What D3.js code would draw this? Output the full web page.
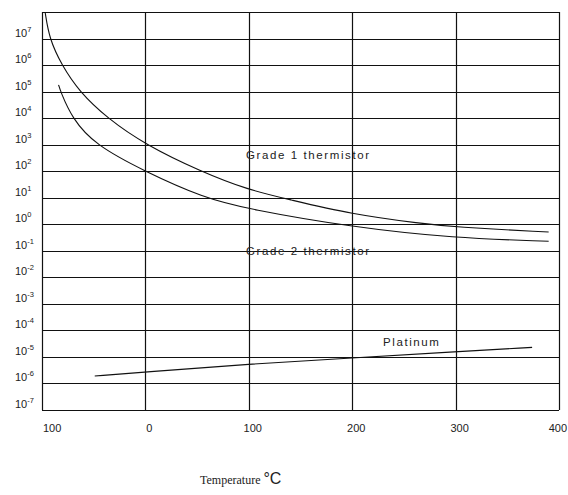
<!DOCTYPE html>
<html>
<head>
<meta charset="utf-8">
<script src="https://cdn.jsdelivr.net/npm/d3@7"></script>
<style>
  body { margin: 0; background: #fff; }
  svg { display: block; }
</style>
</head>
<body>
<script>
// temperature (°C) vs resistivity, log scale
const xTicks = [-100, 0, 100, 200, 300, 400];
const xTickLabels = ["100", "0", "100", "200", "300", "400"];
const yExponents = [7, 6, 5, 4, 3, 2, 1, 0, -1, -2, -3, -4, -5, -6, -7];

const grade1T = [-97, -93, -81, -64, -37, 0, 53, 100, 137, 199, 268, 298, 390];
const grade1R = [1e8, 1e7, 1e6, 1e5, 1e4, 1e3, 100, 19.5, 9, 2.4, 1.05, 0.79, 0.51];

const grade2T = [-84, -82, -71, -49, -1, 56, 100, 198, 298, 390];
const grade2R = [1.8e5, 1e5, 1e4, 1e3, 100, 10, 3.7, 0.8, 0.3, 0.23];

const platinumT = [-49, 0, 100, 200, 298, 374];
const platinumR = [1.9e-6, 2.7e-6, 5.4e-6, 9.1e-6, 1.55e-5, 2.3e-5];

const width = 568, height = 495;

const x = d3.scaleLinear().domain([-100, 400]).range([42, 559]);
const y = d3.scaleLog().domain([1e-7, 1e8]).range([410, 12]);

const svg = d3.select("body").append("svg")
    .attr("width", width)
    .attr("height", height);

// grid
const decades = d3.range(-7, 9).map(e => Math.pow(10, e));
svg.append("g")
    .attr("stroke", "#111")
    .attr("stroke-width", 1.2)
  .selectAll("line")
  .data(decades)
  .join("line")
    .attr("x1", x(-100))
    .attr("x2", x(400))
    .attr("y1", d => Math.round(y(d)) + 0.5)
    .attr("y2", d => Math.round(y(d)) + 0.5);

svg.append("g")
    .attr("stroke", "#111")
    .attr("stroke-width", 1.2)
  .selectAll("line")
  .data(xTicks)
  .join("line")
    .attr("x1", d => Math.round(x(d)) + 0.5)
    .attr("x2", d => Math.round(x(d)) + 0.5)
    .attr("y1", y(1e8))
    .attr("y2", y(1e-7));

// y tick labels: 10 with superscript exponent
const yLab = svg.append("g")
    .attr("font-family", "Liberation Sans, Arial, sans-serif")
    .attr("fill", "#222")
  .selectAll("text")
  .data(yExponents)
  .join("text")
    .attr("x", 15)
    .attr("y", d => y(Math.pow(10, d)) - 2)
    .attr("font-size", 11);
yLab.append("tspan").text("10");
yLab.append("tspan")
    .attr("dy", -5)
    .attr("font-size", 7.5)
    .text(d => d < 0 ? "-" + (-d) : String(d));

// x tick labels
const last = xTicks.length - 1;
svg.append("g")
    .attr("font-family", "Liberation Sans, Arial, sans-serif")
    .attr("font-size", 11)
    .attr("fill", "#222")
  .selectAll("text")
  .data(xTicks)
  .join("text")
    .attr("x", (d, i) => i === 0 ? x(d) + 1 : i === last ? 567 : x(d) + 4)
    .attr("y", 432)
    .attr("text-anchor", (d, i) => i === 0 ? "start" : i === last ? "end" : "middle")
    .text((d, i) => xTickLabels[i]);

// curves
const line = d3.line()
    .x(d => x(d[0]))
    .y(d => y(d[1]))
    .curve(d3.curveBasis);

const series = [
  d3.zip(grade1T, grade1R),
  d3.zip(grade2T, grade2R),
  d3.zip(platinumT, platinumR)
];

svg.append("g")
    .attr("fill", "none")
    .attr("stroke", "#111")
    .attr("stroke-width", 1.1)
  .selectAll("path")
  .data(series)
  .join("path")
    .attr("d", line);

// curve labels
const labels = svg.append("g")
    .attr("font-family", "Liberation Sans, Arial, sans-serif")
    .attr("font-size", 11.5)
    .attr("letter-spacing", 1.6)
    .attr("fill", "#222");
labels.append("text").attr("x", 246).attr("y", 159).text("Grade 1 thermistor");
labels.append("text").attr("x", 246).attr("y", 255).text("Grade 2 thermistor");
labels.append("text").attr("x", 383).attr("y", 346).text("Platinum");

// axis title
const title = svg.append("text")
    .attr("x", 200)
    .attr("y", 484)
    .attr("fill", "#222");
title.append("tspan")
    .attr("font-family", "Liberation Serif, Times New Roman, serif")
    .attr("font-size", 12)
    .text("Temperature ");
title.append("tspan")
    .attr("font-family", "Liberation Sans, Arial, sans-serif")
    .attr("font-size", 16)
    .text("°C");
</script>
</body>
</html>
